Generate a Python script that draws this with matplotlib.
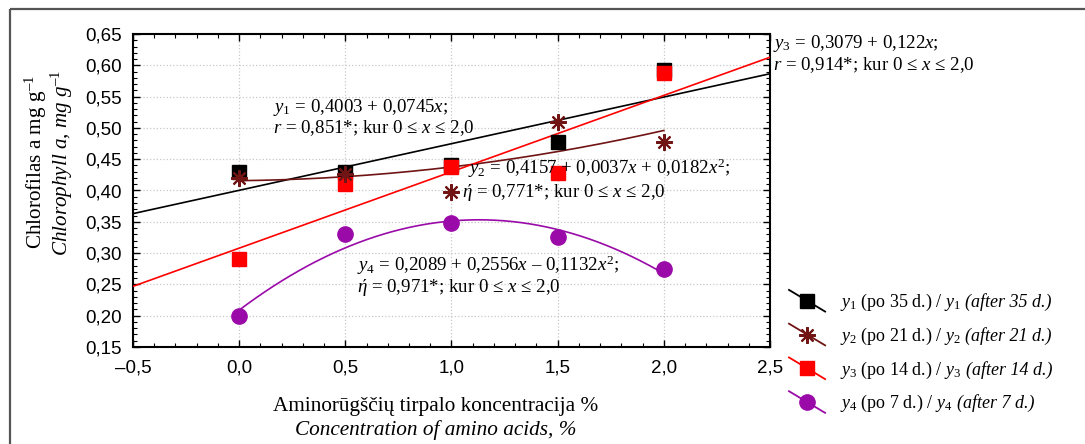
import numpy as np
import matplotlib
matplotlib.use("Agg")
import matplotlib.pyplot as plt
from matplotlib.lines import Line2D
from matplotlib.legend_handler import HandlerLine2D
from matplotlib.ticker import MultipleLocator, FixedLocator

plt.rcParams['font.family'] = ['Liberation Serif', 'DejaVu Serif']
plt.rcParams['mathtext.fontset'] = 'custom'
plt.rcParams['mathtext.rm'] = 'Liberation Serif'
plt.rcParams['mathtext.it'] = 'Liberation Serif:italic'
plt.rcParams['mathtext.bf'] = 'Liberation Serif:bold'

# ---- data ----
x_conc = [0.0, 0.5, 1.0, 1.5, 2.0]
y1_vals = [0.430, 0.430, 0.441, 0.478, 0.593]   # after 35 d.
y2_vals = [0.420, 0.427, 0.398, 0.510, 0.477]   # after 21 d.
y3_vals = [0.290, 0.411, 0.437, 0.428, 0.588]   # after 14 d.
y4_vals = [0.200, 0.330, 0.348, 0.325, 0.275]   # after 7 d.

y1_coef = [0.4003, 0.0745]           # linear
y2_coef = [0.4157, 0.0037, 0.0182]   # quadratic
y3_coef = [0.3079, 0.122]            # linear
y4_coef = [0.2089, 0.2556, -0.1132]  # quadratic

x_ticks = [-0.5, 0.0, 0.5, 1.0, 1.5, 2.0, 2.5]
x_tick_labels = ['–0,5', '0,0', '0,5', '1,0', '1,5', '2,0', '2,5']
y_ticks = [0.15, 0.20, 0.25, 0.30, 0.35, 0.40, 0.45, 0.50, 0.55, 0.60, 0.65]
y_tick_labels = ['0,15', '0,20', '0,25', '0,30', '0,35', '0,40', '0,45', '0,50', '0,55', '0,60', '0,65']

legend_labels_lt = [
    r'$y_1$ (po 35 d.) / $y_1$',
    r'$y_2$ (po 21 d.) / $y_2$',
    r'$y_3$ (po 14 d.) / $y_3$',
    r'$y_4$ (po 7 d.) / $y_4$',
]
legend_labels_en = ['(after 35 d.)', '(after 21 d.)', '(after 14 d.)', '(after 7 d.)']

C1 = '#000000'
C2 = '#701414'
C3 = '#FF0000'
C4 = '#9A0AA8'

W, H = 1085, 444
fig = plt.figure(figsize=(W / 100, H / 100), dpi=100)
fig.patch.set_facecolor('white')

# outer frame (only left & top edges are visible in the crop)
fig.add_artist(Line2D([9.5 / W, 9.5 / W], [0, 1 - 9.5 / H], transform=fig.transFigure,
                      color='#555555', lw=1.6, solid_capstyle='butt'))
fig.add_artist(Line2D([9.5 / W, 1], [1 - 9.5 / H, 1 - 9.5 / H], transform=fig.transFigure,
                      color='#555555', lw=1.6, solid_capstyle='butt'))

ax = fig.add_axes([133 / W, 1 - 347 / H, (770 - 133) / W, (347 - 34) / H])
ax.set_xlim(-0.5, 2.5)
ax.set_ylim(0.15, 0.65)

ax.xaxis.set_major_locator(FixedLocator(x_ticks))
ax.set_xticklabels(x_tick_labels)
ax.yaxis.set_major_locator(FixedLocator(y_ticks))
ax.set_yticklabels(y_tick_labels)
ax.xaxis.set_minor_locator(MultipleLocator(0.1))
ax.yaxis.set_minor_locator(MultipleLocator(0.01))
ax.tick_params(which='both', direction='in', top=True, right=True, labelright=False, labeltop=False)
ax.tick_params(which='major', length=5, width=1.0, labelsize=13.5)
ax.tick_params(which='minor', length=3, width=0.8)
for lab in ax.get_xticklabels() + ax.get_yticklabels():
    lab.set_family('Liberation Sans')
ax.tick_params(axis='x', pad=9)
ax.tick_params(axis='y', pad=8)
for s in ax.spines.values():
    s.set_linewidth(1.5)
ax.grid(True, which='major', color='#c8c8c8', linestyle=':', linewidth=0.9)
ax.set_axisbelow(True)

# fitted curves
xl = np.linspace(-0.5, 2.5, 200)
xq = np.linspace(0.0, 2.0, 200)
ax.plot(xl, np.polyval(y1_coef[::-1], xl), color=C1, lw=1.2, zorder=3)
ax.plot(xq, np.polyval(y2_coef[::-1], xq), color=C2, lw=1.2, zorder=3)
ax.plot(xl, np.polyval(y3_coef[::-1], xl), color=C3, lw=1.2, zorder=3)
ax.plot(xq, np.polyval(y4_coef[::-1], xq), color=C4, lw=1.2, zorder=3)

# points
ax.plot(x_conc, y1_vals, 's', color=C1, ms=10.5, ls='none', zorder=4)
ax.plot(x_conc, y3_vals, 's', color=C3, ms=10.5, ls='none', zorder=5)
ax.plot(x_conc, y2_vals, marker=(8, 2, 0), color=C2, mec=C2, ms=12, mew=1.5, ls='none', zorder=6)
ax.plot(x_conc, y4_vals, 'o', color=C4, ms=11, ls='none', zorder=4)

# annotations
fs = 13.6
tf = fig.transFigure
ax.text(273 / W, 1 - 107 / H, r'$y_1$ = 0,4003 + 0,0745$x$;', transform=tf, fontsize=fs, va='center', ha='left')
ax.text(273 / W, 1 - 128 / H, r'$r$ = 0,851*; kur 0 ≤ $x$ ≤ 2,0', transform=tf, fontsize=fs, va='center', ha='left')
ax.text(468 / W, 1 - 168 / H, r'$y_2$ = 0,4157 + 0,0037$x$ + 0,0182$x^2$;', transform=tf, fontsize=fs, va='center', ha='left', zorder=7)
ax.text(462 / W, 1 - 192 / H, r'$ή$ = 0,771*; kur 0 ≤ $x$ ≤ 2,0', transform=tf, fontsize=fs, va='center', ha='left')
ax.text(773 / W, 1 - 43 / H, r'$y_3$ = 0,3079 + 0,122$x$;', transform=tf, fontsize=fs, va='center', ha='left')
ax.text(773 / W, 1 - 65 / H, r'$r$ = 0,914*; kur 0 ≤ $x$ ≤ 2,0', transform=tf, fontsize=fs, va='center', ha='left')
ax.text(357 / W, 1 - 265 / H, r'$y_4$ = 0,2089 + 0,2556$x$ – 0,1132$x^2$;', transform=tf, fontsize=fs, va='center', ha='left')
ax.text(357 / W, 1 - 287 / H, r'$ή$ = 0,971*; kur 0 ≤ $x$ ≤ 2,0', transform=tf, fontsize=fs, va='center', ha='left')

# axis labels
fig.text(436 / W, 1 - 406 / H, 'Aminorūgščių tirpalo koncentracija %', fontsize=15.3, ha='center', va='center')
fig.text(436 / W, 1 - 430 / H, 'Concentration of amino acids, %', fontsize=15.3, ha='center', va='center', style='italic')
fig.text(36 / W, 1 - 162 / H, r'Chlorofilas a mg g$^{\rm{–1}}$', fontsize=15.2, ha='center', va='center', rotation=90)
fig.text(62 / W, 1 - 163 / H, r'Chlorophyll a, mg g$^{–1}$', fontsize=15.2, ha='center', va='center', rotation=90, style='italic')


class SlantHandler(HandlerLine2D):
    def create_artists(self, legend, orig_handle, xdescent, ydescent, width, height, fontsize, trans):
        x0, x1 = -xdescent, -xdescent + width
        yc = -ydescent + height / 2
        dy = width * 0.3
        line = Line2D([x0, x1], [yc + dy, yc - dy], color=orig_handle.get_color(), lw=1.3)
        line.set_transform(trans)
        mk = Line2D([(x0 + x1) / 2], [yc], marker=orig_handle.get_marker(),
                    markersize=orig_handle.get_markersize(), color=orig_handle.get_color(),
                    mec=orig_handle.get_markeredgecolor(), mew=orig_handle.get_markeredgewidth(), ls='none')
        mk.set_transform(trans)
        return [line, mk]


handles = [
    Line2D([], [], color=C1, marker='s', ms=10, mec=C1),
    Line2D([], [], color=C2, marker=(8, 2, 0), ms=12, mec=C2, mew=1.5),
    Line2D([], [], color=C3, marker='s', ms=10, mec=C3),
    Line2D([], [], color=C4, marker='o', ms=11, mec=C4),
]
lfs = 13
leg = fig.legend(handles, legend_labels_lt, loc='upper left', bbox_to_anchor=(789 / W, 1 - 292 / H),
                 frameon=False, fontsize=lfs, handlelength=2.0, handletextpad=0.85, labelspacing=0.7,
                 borderpad=0, borderaxespad=0, handler_map={Line2D: SlantHandler()})

# italic English part of each legend label, appended on the same baseline
fig.canvas.draw()
inv = fig.transFigure.inverted()
for t, en in zip(leg.get_texts(), legend_labels_en):
    bb = t.get_window_extent()
    bx, by = t.get_transform().transform(t.get_position())
    fx, fy = inv.transform((bb.x1 + 4, by))
    fig.text(fx, fy, en, fontsize=lfs, style='italic', ha='left', va='baseline')

fig.savefig('out.png', dpi=100)
